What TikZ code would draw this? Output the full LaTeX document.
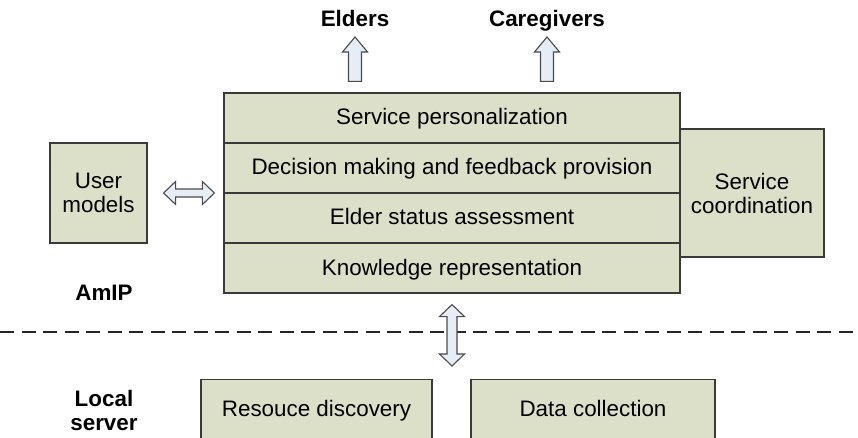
\documentclass[tikz,border=0pt]{standalone}
\usepackage{fontspec}
\setmainfont{Liberation Sans}
\usepackage{xcolor}
\usepackage{tikz}
\usetikzlibrary{calc}
\definecolor{boxfill}{HTML}{DDE0C9}
\definecolor{boxline}{HTML}{3A3A3A}
\definecolor{arrfill}{HTML}{E6EDF7}
\definecolor{arrline}{HTML}{4A4A4A}
\tikzset{
  box/.style={draw=boxline, fill=boxfill, line width=1.2pt, inner sep=0pt,
    font=\fontsize{22.4}{24}\selectfont, align=center},
  layer/.style={box, minimum width=456pt, minimum height=50pt,
    text height=15pt, text depth=1pt},
  lbl/.style={font=\fontsize{22.4}{24}\selectfont\bfseries, align=center, inner sep=0pt},
  blockarr/.style={draw=arrline, fill=arrfill, line width=1.1pt, line join=miter},
  sep/.style={draw=black!85, line width=1.3pt, dash pattern=on 14pt off 7.5pt}
}
% block arrows: tail, tip
\newcommand\fatup[2]{%
  \draw[blockarr] ($(#1)+(-6.5,0)$) -- ($(#2)+(-6.5,15)$) -- ($(#2)+(-12.5,15)$) -- (#2)
    -- ($(#2)+(12.5,15)$) -- ($(#2)+(6.5,15)$) -- ($(#1)+(6.5,0)$) -- cycle;}
\newcommand\fatvert[2]{%
  \draw[blockarr] (#1) -- ($(#1)+(12.5,12)$) -- ($(#1)+(5,12)$) -- ($(#2)+(5,-12)$)
    -- ($(#2)+(12.5,-12)$) -- (#2) -- ($(#2)+(-12.5,-12)$) -- ($(#2)+(-5,-12)$)
    -- ($(#1)+(-5,12)$) -- ($(#1)+(-12.5,12)$) -- cycle;}
\newcommand\fathoriz[2]{%
  \draw[blockarr] (#1) -- ($(#1)+(12,-11.5)$) -- ($(#1)+(12,-4)$) -- ($(#2)+(-12,-4)$)
    -- ($(#2)+(-12,-11.5)$) -- (#2) -- ($(#2)+(-12,11.5)$) -- ($(#2)+(-12,4)$)
    -- ($(#1)+(12,4)$) -- ($(#1)+(12,11.5)$) -- cycle;}

\begin{document}
\begin{tikzpicture}[x=1pt, y=-1pt]
\clip (0,0) rectangle (858,438);

% outputs
\node[lbl, anchor=base] (elders) at (355,27) {Elders};
\node[lbl, anchor=base] (carers) at (547,27) {Caregivers};

% AmIP layers
\node[layer] (perso) at (452,118) {Service personalization};
\node[layer] (decide) at (452,168) {Decision making and feedback provision};
\node[layer] (assess) at (452,218) {Elder status assessment};
\node[layer] (know) at (452,268) {Knowledge representation};
\node[box, minimum width=144pt, minimum height=128pt] (coord) at (752,193) {Service\\coordination};
\node[box, minimum width=97pt, minimum height=100pt] (users) at (98.5,193) {User\\models};
\node[lbl] (amip) at (104,293) {AmIP};

% local server
\node[lbl] (local) at (104,410) {Local\\server};
\node[box, anchor=north, minimum width=231pt, minimum height=80pt,
  text height=16pt, text depth=22pt] (discover) at (316.5,379) {Resouce discovery};
\node[box, anchor=north, minimum width=244pt, minimum height=80pt,
  text height=16pt, text depth=22pt] (collect) at (593,379) {Data collection};

\draw[sep] (0,332) -- (858,332);

% arrows
\coordinate (eldtip) at ([yshift=-10pt]elders.base);
\coordinate (eldtail) at ([yshift=11pt]perso.north -| eldtip);
\coordinate (cartip) at ([yshift=-10pt]carers.base);
\coordinate (cartail) at ([yshift=11pt]perso.north -| cartip);
\fatup{eldtail}{eldtip}
\fatup{cartail}{cartip}
\coordinate (umleft) at ([xshift=16pt]users.east);
\coordinate (umright) at ([xshift=-9pt]users.east -| perso.west);
\fathoriz{umleft}{umright}
\coordinate (kntop) at ([yshift=-11pt]know.south);
\coordinate (knbot) at ([yshift=13pt]discover.north -| kntop);
\fatvert{kntop}{knbot}
\end{tikzpicture}
\end{document}
